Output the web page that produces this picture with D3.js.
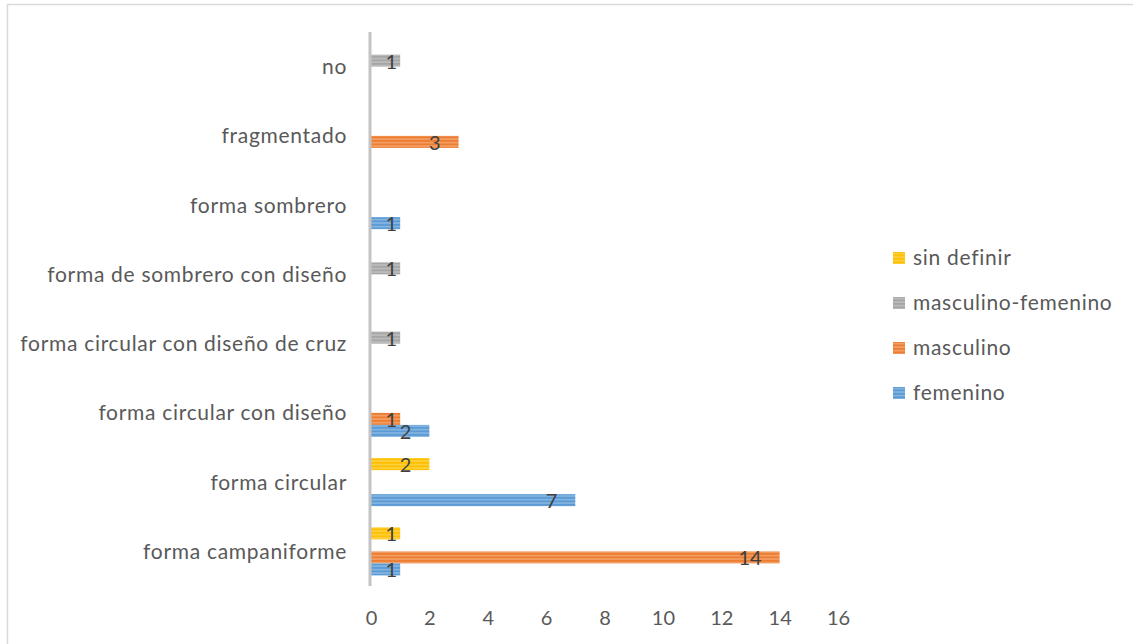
<!DOCTYPE html>
<html>
<head>
<meta charset="utf-8">
<script src="https://cdn.jsdelivr.net/npm/d3@7"></script>
<style>
  html, body { margin: 0; padding: 0; background: #fff; }
  svg { display: block; font-family: Lato, "Open Sans", sans-serif; }
</style>
</head>
<body>
<svg id="chart" width="1133" height="644"></svg>
<script>
// Categories, listed top to bottom as they appear on the axis
const categories = [
  "no",
  "fragmentado",
  "forma sombrero",
  "forma de sombrero con diseño",
  "forma circular con diseño de cruz",
  "forma circular con diseño",
  "forma circular",
  "forma campaniforme"
];

// Series in legend order (top to bottom)
const seriesNames = ["sin definir", "masculino-femenino", "masculino", "femenino"];
const seriesColors = ["#FFC000", "#A5A5A5", "#ED7D31", "#5B9BD5"];

// Counts per category, one array per series (null = no bar)
const sinDefinir        = [null, null, null, null, null, null, 2, 1];
const masculinoFemenino = [1, null, null, 1, 1, null, null, null];
const masculino         = [null, 3, null, null, null, 1, null, 14];
const femenino          = [null, null, 1, null, null, 2, 7, 1];

const seriesValues = [sinDefinir, masculinoFemenino, masculino, femenino];
const xTicks = [0, 2, 4, 6, 8, 10, 12, 14, 16];

const svg = d3.select("#chart");

// Outer frame
svg.append("rect")
  .attr("x", 7.5).attr("y", 4.5)
  .attr("width", 1200).attr("height", 700)
  .attr("fill", "none").attr("stroke", "#d9d9d9").attr("stroke-width", 1.5);

// Stripe patterns for each series
const defs = svg.append("defs");
seriesNames.forEach((name, i) => {
  const base = seriesColors[i];
  const light = d3.interpolateRgb(base, "#ffffff")(0.35);
  const p = defs.append("pattern")
    .attr("id", "stripe" + i)
    .attr("patternUnits", "userSpaceOnUse")
    .attr("width", 8).attr("height", 3.5);
  p.append("rect").attr("width", 8).attr("height", 3.5).attr("fill", base);
  p.append("rect").attr("y", 2).attr("width", 8).attr("height", 1.2).attr("fill", light);
});

const x = d3.scaleLinear().domain([0, 16]).range([371, 838]);
const y = d3.scaleBand().domain(categories).range([32, 586])
  .paddingInner(0.306).paddingOuter(0.153);
const ySeries = d3.scaleBand().domain(seriesNames).range([0, y.bandwidth()]);

// Flatten to bar records
const bars = [];
categories.forEach((c, ci) => {
  seriesNames.forEach((s, si) => {
    const v = seriesValues[si][ci];
    if (v != null) bars.push({ category: c, series: s, si, value: v });
  });
});

// Bars
svg.append("g").selectAll("rect")
  .data(bars)
  .join("rect")
  .attr("x", x(0))
  .attr("y", d => y(d.category) + ySeries(d.series))
  .attr("width", d => x(d.value) - x(0))
  .attr("height", ySeries.bandwidth())
  .attr("fill", d => `url(#stripe${d.si})`);

// Value axis tick labels
const xAxis = svg.append("g")
  .attr("transform", "translate(0,586)")
  .call(d3.axisBottom(x).tickValues(xTicks).tickSize(0).tickPadding(25));
xAxis.select(".domain").remove();
xAxis.selectAll("text")
  .attr("fill", "#595959").style("font-size", "20px")
  .style("font-family", "Lato, 'Open Sans', sans-serif");

// Category axis
const yAxis = svg.append("g")
  .attr("transform", `translate(${x(0)},0)`)
  .call(d3.axisLeft(y).tickSize(0).tickPadding(24));
yAxis.select(".domain").remove();
yAxis.selectAll("text")
  .attr("fill", "#595959").attr("dy", "0.36em")
  .style("font-size", "21px").style("letter-spacing", "0.7px")
  .style("font-family", "Lato, 'Open Sans', sans-serif");

svg.append("line")
  .attr("x1", x(0) - 1).attr("x2", x(0) - 1)
  .attr("y1", 32).attr("y2", 586)
  .attr("stroke", "#c4c4c4").attr("stroke-width", 3);

// Value labels near the bar ends
svg.append("g").selectAll("text")
  .data(bars)
  .join("text")
  .attr("x", d => (x(d.value) - x(0) < 40) ? x(d.value) - 3 : x(d.value) - 18)
  .attr("y", d => y(d.category) + ySeries(d.series) + ySeries.bandwidth() / 2 + 8)
  .attr("text-anchor", "end")
  .attr("fill", "#404040")
  .style("font-size", "20px")
  .text(d => d.value);

// Legend
const legend = svg.append("g").attr("transform", "translate(893,258)");
seriesNames.forEach((name, i) => {
  const g = legend.append("g").attr("transform", `translate(0,${i * 45})`);
  g.append("rect").attr("x", 0).attr("y", -6).attr("width", 12).attr("height", 12)
    .attr("fill", `url(#stripe${i})`);
  g.append("text").attr("x", 20).attr("y", 0).attr("dy", "0.35em")
    .attr("fill", "#595959")
    .style("font-size", "21px").style("letter-spacing", "0.7px")
    .text(name);
});
</script>
</body>
</html>
